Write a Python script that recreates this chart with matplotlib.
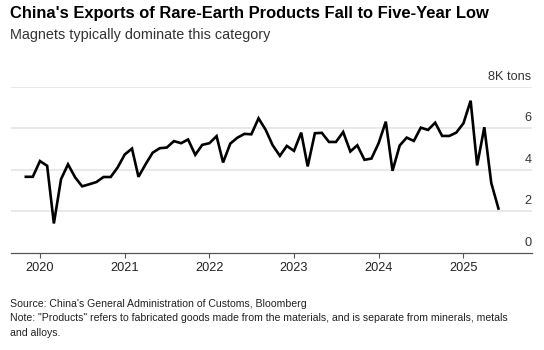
import matplotlib
matplotlib.use("Agg")
import matplotlib.pyplot as plt
import matplotlib.dates as mdates
import pandas as pd

# Monthly exports of rare-earth products, thousand tons
months = pd.date_range("2019-11-01", periods=68, freq="MS")
exports = [
    3.66, 3.66,
    4.42, 4.19, 1.41, 3.55, 4.26, 3.63, 3.20, 3.30, 3.41, 3.65, 3.65, 4.11,
    4.74, 5.02, 3.66, 4.27, 4.82, 5.04, 5.07, 5.38, 5.28, 5.46, 4.72, 5.20,
    5.28, 5.62, 4.35, 5.26, 5.54, 5.73, 5.71, 6.48, 5.92, 5.18, 4.67, 5.15,
    4.91, 5.79, 4.16, 5.76, 5.78, 5.34, 5.34, 5.82, 4.88, 5.18, 4.48, 4.54,
    5.28, 6.32, 3.95, 5.17, 5.55, 5.39, 6.03, 5.92, 6.27, 5.63, 5.63, 5.79,
    6.24, 7.33, 4.21, 6.05, 3.36, 2.13,
]
y_ticks = [0, 2, 4, 6, 8]
y_labels = ["0", "2", "4", "6", "8K tons"]
years = [2020, 2021, 2022, 2023, 2024, 2025]

title = "China's Exports of Rare-Earth Products Fall to Five-Year Low"
subtitle = "Magnets typically dominate this category"
footer = ("Source: China's General Administration of Customs, Bloomberg\n"
          "Note: \"Products\" refers to fabricated goods made from the materials, "
          "and is separate from minerals, metals\nand alloys.")

plt.rcParams["font.family"] = ["Liberation Sans", "DejaVu Sans"]

fig = plt.figure(figsize=(5.44, 3.5), dpi=100)
ax = fig.add_axes([0.0202, 0.278, 0.957, 0.474])

ax.plot(months, exports, color="black", lw=1.9, solid_joinstyle="miter", zorder=3)

ax.set_ylim(0, 8)
ax.set_xlim(pd.Timestamp("2019-08-29"), pd.Timestamp("2025-10-22"))

# gridlines
for v in y_ticks[1:]:
    ax.axhline(v, color="#e3e3e3", lw=1.1, zorder=1)
# y labels sit above gridlines at right edge
for v, lab in zip(y_ticks, y_labels):
    ax.annotate(lab, xy=(1.0, v), xycoords=("axes fraction", "data"),
                xytext=(0, 3), textcoords="offset points",
                ha="right", va="bottom", fontsize=9.2, color="#333333")
ax.set_yticks([])

ax.xaxis.set_major_locator(mdates.YearLocator())
ax.xaxis.set_major_formatter(mdates.DateFormatter("%Y"))
ax.set_xticks([pd.Timestamp(f"{y}-01-01") for y in years])
ax.tick_params(axis="x", length=3.5, width=0.8, color="#555555",
               labelsize=9.2, labelcolor="#222222", pad=3)

for s in ["top", "left", "right"]:
    ax.spines[s].set_visible(False)
ax.spines["bottom"].set_color("#555555")
ax.spines["bottom"].set_linewidth(0.9)

fig.text(0.018, 0.962, title, fontsize=11.85, fontweight="bold", color="black",
         ha="left", va="center")
fig.text(0.018, 0.899, subtitle, fontsize=10.4, color="#333333",
         ha="left", va="center")
fig.text(0.018, 0.145, footer, fontsize=7.52, color="#222222",
         ha="left", va="top", linespacing=1.52)

fig.savefig("out.png", dpi=100)
